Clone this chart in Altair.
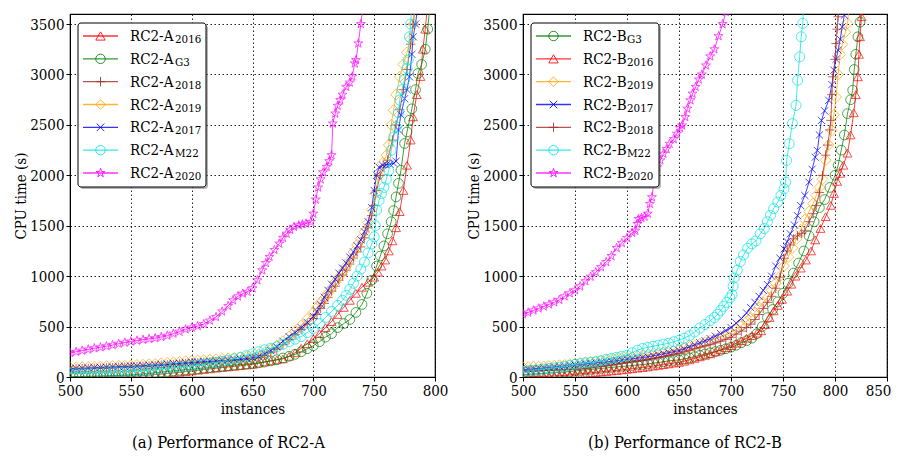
import altair as alt
import pandas as pd

FONT = "'DejaVu Serif Condensed', 'DejaVu Serif', serif"

# ---------------- sampling grids (instances) ----------------
N_500_700 = [500, 505, 510, 515, 520, 525, 530, 535, 540, 545, 550, 555, 560, 565, 570, 575, 580,
             585, 590, 595, 600, 605, 610, 615, 620, 625, 630, 635, 640, 645, 650, 655, 660, 665,
             670, 675, 680, 685, 690, 695, 700]
N_500_650 = [500, 505, 510, 515, 520, 525, 530, 535, 540, 545, 550, 555, 560, 565, 570, 575, 580,
             585, 590, 595, 600, 605, 610, 615, 620, 625, 630, 635, 640, 645, 650]
N_500_605 = [500, 505, 510, 515, 520, 525, 530, 535, 540, 545, 550, 555, 560, 565, 570, 575, 580,
             585, 590, 595, 600, 605]
N_500_600 = [500, 505, 510, 515, 520, 525, 530, 535, 540, 545, 550, 555, 560, 565, 570, 575, 580,
             585, 590, 595, 600]

# ---------------- panel (a) RC2-A ----------------
A2016_n = N_500_700 + [705, 710, 715, 720, 725, 730, 735, 740, 745, 750, 753, 756, 759, 762, 765, 768,
                       771, 774, 777, 780, 782, 785, 788, 790, 792, 794]
A2016_t = [0, 1, 2, 3, 4, 4, 5, 5, 6, 7, 8, 11, 15, 20, 25, 30, 35, 41, 48, 54, 60, 67, 75, 81, 88, 94,
           100, 106, 112, 119, 126, 138, 150, 160, 170, 180, 205, 240, 285, 330, 380,
           430, 490, 550, 620, 690, 760, 830, 890, 940, 990, 1040, 1100, 1160, 1250, 1350, 1480,
           1640, 1850, 2100, 2350, 2580, 2800, 2980, 3250, 3450, 3700]

AG3_n = N_500_700 + [705, 710, 715, 720, 725, 730, 735, 740, 744, 748, 752, 755, 758, 761, 764, 766,
                     768, 770, 772, 775, 777, 779, 781, 784, 786, 789, 792, 794, 796]
AG3_t = [3, 4, 5, 7, 8, 10, 12, 14, 16, 18, 20, 25, 30, 36, 42, 48, 55, 61, 67, 72, 76, 82, 88, 94,
         100, 106, 112, 118, 124, 128, 132, 140, 148, 160, 172, 188, 205, 225, 250, 280, 310,
         350, 395, 430, 490, 530, 570, 640, 720, 830, 960, 1100, 1200, 1300, 1420, 1540, 1650, 1786,
         1920, 2051, 2316, 2430, 2547, 2660, 2850, 3010, 3100, 3250, 3450, 3700]

A2018_n = N_500_700 + [703, 706, 709, 712, 715, 718, 721, 724, 727, 730, 733, 736, 739, 742, 745, 748,
                       750, 752, 755, 758, 761, 765, 768, 771, 774, 777, 780, 782, 784]
A2018_t = [78, 80, 82, 84, 86, 88, 90, 92, 95, 97, 100, 103, 106, 109, 112, 116, 120, 124, 129, 133,
           138, 141, 145, 148, 152, 156, 160, 165, 170, 175, 180, 195, 215, 242, 275, 320, 370, 420,
           470, 525, 580,
           620, 680, 730, 790, 850, 900, 960, 1010, 1060, 1120, 1180, 1240, 1290, 1380, 1480, 1600,
           1700, 1850, 2000, 2080, 2150, 2350, 2500, 2650, 2850, 3050, 3300, 3500, 3700]

A2019_n = N_500_700 + [703, 706, 709, 712, 715, 718, 721, 724, 727, 730, 733, 736, 739, 742, 745, 748,
                       751, 754, 757, 760, 762, 764, 766, 768, 771, 774, 777, 780, 782, 784]
A2019_t = [93, 95, 97, 99, 101, 103, 106, 108, 111, 113, 116, 119, 122, 126, 130, 135, 140, 145, 150,
           155, 160, 164, 168, 172, 176, 180, 185, 190, 196, 200, 205, 222, 245, 275, 310, 355, 400,
           455, 510, 575, 640,
           690, 740, 780, 830, 880, 940, 990, 1040, 1100, 1160, 1240, 1310, 1370, 1440, 1530, 1660,
           1820, 2000, 2120, 2200, 2300, 2500, 2646, 2800, 2977, 3100, 3220, 3350, 3500, 3700]

A2017_n = N_500_700 + [703, 706, 709, 712, 715, 718, 721, 724, 727, 730, 733, 736, 739, 742, 745, 748,
                       750, 752, 754, 757, 760, 763, 766, 768, 770, 772, 775, 777, 779, 781, 782, 784,
                       786]
A2017_t = [83, 85, 87, 89, 92, 94, 97, 99, 102, 104, 106, 109, 112, 116, 120, 124, 128, 133, 137, 142,
           146, 149, 153, 156, 160, 164, 168, 172, 178, 184, 190, 205, 230, 262, 300, 355, 400, 440,
           490, 540, 600,
           650, 720, 790, 860, 920, 970, 1030, 1080, 1130, 1190, 1240, 1300, 1360, 1440, 1540, 1680,
           1850, 2000, 2080, 2100, 2105, 2110, 2120, 2140, 2450, 2600, 2760, 2850, 2977, 3200, 3374,
           3500, 3700]

AM22_n = N_500_700 + [705, 710, 715, 720, 724, 727, 730, 733, 736, 739, 742, 745, 748, 750, 751, 752,
                      754, 756, 758, 760, 762, 764, 766, 768, 770, 771, 773, 775, 777, 778, 779, 780,
                      781]
AM22_t = [35, 36, 38, 40, 42, 44, 46, 48, 50, 53, 56, 59, 62, 67, 73, 79, 85, 91, 97, 103, 110, 118,
          126, 135, 145, 155, 166, 180, 195, 212, 230, 250, 270, 285, 300, 325, 350, 375, 400, 440, 480,
          530, 590, 650, 710, 760, 810, 870, 930, 1000, 1070, 1140, 1230, 1320, 1390, 1500, 1654,
          1750, 1819, 1880, 1960, 2050, 2249, 2380, 2481, 2620, 2746, 2850, 2950, 3060, 3143, 3374,
          3500, 3700]

A2020_n = N_500_600 + [605, 610, 615, 620, 625, 630, 634, 638, 642, 646, 650, 654, 658, 661, 664, 668,
                       672, 675, 678, 681, 684, 688, 691, 694, 698, 700, 702, 704, 706, 708, 711, 713,
                       715, 716, 718, 720, 722, 724, 727, 730, 732, 734, 735, 737, 739, 741]
A2020_t = [240, 250, 262, 273, 285, 295, 305, 317, 330, 341, 352, 361, 370, 378, 385, 397, 410, 430,
           450, 473, 490,
           505, 525, 560, 595, 650, 705, 761, 800, 827, 845, 880, 959, 1058, 1130, 1191, 1260, 1323,
           1380, 1422, 1460, 1490, 1505, 1515, 1522, 1538, 1620, 1760, 1880, 1960, 2030, 2084, 2140,
           2200, 2514, 2613, 2690, 2746, 2800, 2878, 2920, 2980, 3110, 3143, 3308, 3500, 3700]

# ---------------- panel (b) RC2-B ----------------
BG3_n = N_500_700 + [705, 710, 715, 720, 725, 730, 735, 740, 745, 750, 755, 760, 765, 770, 775, 780,
                     785, 790, 795, 800, 803, 806, 809, 812, 815, 817, 818.5, 820, 822, 824, 826]
BG3_t = [25, 27, 30, 32, 35, 38, 42, 46, 50, 55, 60, 65, 70, 75, 80, 85, 90, 95, 100, 105,
         109, 114, 119, 124, 130, 137, 144, 151, 160, 165, 170, 180, 190, 202, 215, 228, 240, 252,
         265, 280, 295,
         315, 340, 360, 385, 430, 500, 589, 670, 745, 830, 930, 1030, 1130, 1250, 1400, 1540, 1680,
         1760, 1880, 2000, 2100, 2250, 2400, 2612, 2750, 2844, 3050, 3200, 3374, 3520, 3700]

B2016_n = N_500_700 + [705, 710, 715, 720, 725, 729, 733, 737, 741, 745, 749, 754, 758, 762, 767, 772,
                       777, 781, 786, 791, 796, 799, 802, 805, 808, 812, 815, 818, 820, 822, 823, 824,
                       825.5, 827]
B2016_t = [0, 1, 3, 4, 5, 8, 10, 13, 15, 20, 27, 31, 35, 40, 45, 50, 55, 60, 65, 70,
           76, 82, 88, 94, 100, 108, 115, 122, 130, 138, 145, 157, 170, 185, 200, 215, 230, 250, 270,
           290, 311,
           335, 360, 385, 410, 435, 458, 520, 590, 655, 710, 770, 851, 920, 1000, 1080, 1160, 1250,
           1360, 1473, 1590, 1702, 1820, 1940, 2020, 2100, 2220, 2400, 2620, 2800, 2977, 3200, 3374,
           3573, 3700]

B2019_n = N_500_700 + [705, 710, 715, 719, 723, 727, 731, 735, 739, 743, 747, 751, 755, 759, 763, 767,
                       771, 775, 779, 782, 785, 788, 791, 794, 797, 799, 801, 803, 805, 807, 810, 812,
                       814]
B2019_t = [95, 97, 99, 101, 104, 108, 112, 116, 120, 126, 132, 138, 144, 150, 156, 162, 168, 174, 180,
           186, 192, 199, 206, 213, 220, 228, 236, 244, 252, 261, 270, 283, 297, 312, 328, 345, 362,
           380, 400, 420, 442,
           475, 510, 550, 589, 640, 690, 740, 786, 860, 930, 1000, 1100, 1190, 1280, 1370, 1460, 1560,
           1640, 1720, 1800, 1880, 1960, 2150, 2300, 2446, 2600, 2777, 3000, 3200, 3300, 3420, 3507,
           3700]

B2017_n = N_500_700 + [705, 710, 715, 719, 723, 727, 731, 735, 739, 743, 747, 751, 754, 757, 761, 764,
                       767, 771, 775, 778, 781, 783, 785, 787, 790, 794, 797, 799, 801, 803, 805, 807,
                       809, 810]
B2017_t = [75, 78, 82, 86, 90, 95, 100, 105, 110, 115, 119, 124, 130, 135, 140, 145, 150, 156, 162, 168,
           175, 181, 187, 193, 200, 210, 220, 230, 240, 251, 262, 280, 300, 320, 340, 360, 380, 405,
           430, 460, 491,
           535, 580, 635, 688, 740, 800, 860, 917, 1000, 1100, 1180, 1270, 1342, 1420, 1506, 1600,
           1700, 1800, 1932, 2060, 2180, 2247, 2400, 2545, 2640, 2744, 2900, 3043, 3150, 3241, 3350,
           3473, 3589, 3700]

B2018_n = N_500_700 + [705, 710, 715, 719, 723, 727, 731, 735, 739, 743, 747, 751, 754, 757, 760, 764,
                       768, 771, 775, 779, 782, 785, 788, 791, 793, 795, 796, 797, 798, 800, 801, 802,
                       803, 804]
B2018_t = [60, 61, 62, 63, 65, 67, 69, 70, 72, 74, 76, 80, 85, 91, 98, 104, 110, 118, 126, 134,
           142, 149, 156, 163, 170, 181, 192, 203, 215, 225, 235, 250, 265, 280, 295, 308, 320, 338,
           355, 374, 393,
           425, 455, 490, 524, 570, 620, 680, 740, 800, 880, 990, 1178, 1250, 1310, 1370, 1400, 1425,
           1450, 1540, 1620, 1700, 1830, 2000, 2200, 2300, 2450, 2545, 2800, 2977, 3150, 3307, 3450,
           3573, 3700]

BM22_n = N_500_650 + [655, 660, 665, 670, 675, 680, 684, 687, 690, 693, 696, 699, 701, 702, 703, 706,
                      709, 712, 716, 720, 724, 728, 732, 735, 738, 741, 745, 748, 751, 752.5, 753.5,
                      756, 759, 762.5, 764, 766, 767.5, 769, 770]
BM22_t = [55, 60, 65, 71, 78, 84, 90, 97, 105, 115, 126, 133, 140, 145, 150, 160, 175, 185, 195, 205,
          215, 240, 265, 283, 295, 305, 315, 325, 335, 350, 365,
          385, 410, 445, 485, 520, 560, 590, 622, 660, 700, 740, 785, 818, 900, 982, 1060, 1146, 1210,
          1277, 1320, 1350, 1420, 1473, 1540, 1604, 1670, 1735, 1800, 1866, 1932, 2148, 2314, 2513,
          2694, 2943, 3175, 3374, 3507, 3700]

B2020_n = N_500_605 + [608, 610, 611, 614, 617, 620, 622, 624, 626, 629, 632, 635, 638, 641, 645, 648,
                       651, 653, 656, 658, 661, 663, 666, 669, 672, 676, 680, 684, 688, 692, 695]
B2020_t = [623, 640, 660, 680, 700, 720, 740, 765, 800, 830, 860, 900, 950, 995, 1040, 1090, 1140,
           1200, 1280, 1330, 1380, 1430,
           1451, 1518, 1568, 1578, 1590, 1620, 1717, 1783, 1949, 2081, 2148, 2214, 2260, 2313, 2360,
           2413, 2470, 2495, 2578, 2661, 2744, 2810, 2877, 2950, 3000, 3090, 3180, 3250, 3380, 3500,
           3620]

# ---------------- styles (per solver tag) ----------------
PLUS = "M-1,0L1,0M0,-1L0,1"
XMARK = "M-0.8,-0.8L0.8,0.8M-0.8,0.8L0.8,-0.8"
STAR = ("M0,-1L0.22,-0.31L0.95,-0.31L0.36,0.12L0.59,0.81L0,0.38L-0.59,0.81"
        "L-0.36,0.12L-0.95,-0.31L-0.22,-0.31Z")
STYLE = {
    "2016": ("#ff0000", "triangle-up", 80),
    "G3": ("#008000", "circle", 95),
    "2018": ("#a52a2a", PLUS, 90),
    "2019": ("#ffa500", "diamond", 120),
    "2017": ("#0000ff", XMARK, 80),
    "M22": ("#00e5e5", "circle", 100),
    "2020": ("#ff00ff", STAR, 90),
}

SERIES_A = [("2016", A2016_n, A2016_t), ("G3", AG3_n, AG3_t), ("2018", A2018_n, A2018_t),
            ("2019", A2019_n, A2019_t), ("2017", A2017_n, A2017_t), ("M22", AM22_n, AM22_t),
            ("2020", A2020_n, A2020_t)]
SERIES_B = [("G3", BG3_n, BG3_t), ("2016", B2016_n, B2016_t), ("2019", B2019_n, B2019_t),
            ("2017", B2017_n, B2017_t), ("2018", B2018_n, B2018_t), ("M22", BM22_n, BM22_t),
            ("2020", B2020_n, B2020_t)]

Y_TICKS = [0, 500, 1000, 1500, 2000, 2500, 3000, 3500]
X_TICKS_A = [500, 550, 600, 650, 700, 750, 800]
X_TICKS_B = [500, 550, 600, 650, 700, 750, 800, 850]


def panel(series, base, caption, xmax, xticks, width, sub_dx, cap_dx):
    xs = alt.Scale(domain=[500, xmax], nice=False, zero=False)
    ys = alt.Scale(domain=[0, 3600], nice=False)
    xax = alt.Axis(values=xticks, title="instances", format="d",
                   labelOffset={"condition": {"test": "datum.value == 850", "value": -9},
                                "value": 0})
    yax = alt.Axis(values=Y_TICKS, title="CPU time (s)", format="d")
    layers = []
    for tag, n, t in series:
        color, shape, size = STYLE[tag]
        df = pd.DataFrame({"n": n, "t": t})
        b = alt.Chart(df).encode(x=alt.X("n:Q", scale=xs, axis=xax),
                                 y=alt.Y("t:Q", scale=ys, axis=yax))
        layers.append(b.mark_line(color=color, strokeWidth=1, opacity=0.75, clip=True))
        layers.append(b.mark_point(shape=shape, size=size, color=color, filled=False,
                                   strokeWidth=1, opacity=0.7, clip=True))
    data_layer = alt.layer(*layers)

    tags = [s[0] for s in series]
    leg = pd.DataFrame({"tag": tags, "row": list(range(len(tags))),
                        "main": [base] * len(tags), "sub": tags})
    ly = alt.Y("row:Q", scale=alt.Scale(domain=[0, 6], range=[22, 159]), axis=None)
    lc = alt.Color("tag:N", scale=alt.Scale(domain=tags, range=[STYLE[g][0] for g in tags]),
                   legend=None)
    ls = alt.Shape("tag:N", scale=alt.Scale(domain=tags, range=[STYLE[g][1] for g in tags]),
                   legend=None)
    one = pd.DataFrame({"k": [0]})
    shadow = alt.Chart(one).mark_rect(color="#777777", opacity=0.55, cornerRadius=3).encode(
        x=alt.value(10), x2=alt.value(138), y=alt.value(11), y2=alt.value(175))
    box = alt.Chart(one).mark_rect(fill="white", stroke="black", strokeWidth=1,
                                   cornerRadius=3).encode(
        x=alt.value(8), x2=alt.value(136), y=alt.value(9), y2=alt.value(173))
    lrule = alt.Chart(leg).mark_rule(strokeWidth=1.3, opacity=0.8).encode(
        x=alt.value(13), x2=alt.value(48), y=ly, color=lc)
    lpt = alt.Chart(leg).mark_point(filled=False, size=90, strokeWidth=1, opacity=0.85).encode(
        x=alt.value(30.5), y=ly, color=lc, shape=ls)
    ltxt = alt.Chart(leg).mark_text(align="left", baseline="middle", font=FONT, fontSize=15,
                                    color="black").encode(x=alt.value(60), y=ly, text="main:N")
    lsub = alt.Chart(leg).mark_text(align="left", baseline="middle", font=FONT, fontSize=11.5,
                                    color="black", dx=sub_dx, dy=4).encode(
        x=alt.value(60), y=ly, text="sub:N")
    legend_layer = alt.layer(shadow, box, lrule, lpt, ltxt, lsub)

    return alt.layer(data_layer, legend_layer).resolve_scale(y="independent").properties(
        width=width, height=363,
        title=alt.TitleParams(caption, orient="bottom", anchor="middle", frame="group",
                              dx=cap_dx, offset=19, fontSize=16.5, font=FONT,
                              fontWeight="normal", color="black"))


pa = panel(SERIES_A, "RC2-A", "(a) Performance of RC2-A", 800, X_TICKS_A, 365, 45, -24)
pb = panel(SERIES_B, "RC2-B", "(b) Performance of RC2-B", 850, X_TICKS_B, 364, 44, -20)

chart = alt.hconcat(pa, pb, spacing=16).properties(
    padding={"left": 4, "top": 5, "right": 0, "bottom": 0}
).configure_view(stroke="black", strokeWidth=1.2).configure_axis(
    labelFont=FONT, titleFont=FONT, labelFontSize=15, titleFontSize=15, titleFontWeight="normal",
    labelColor="black", titleColor="black", domainColor="black", tickColor="black",
    tickSize=4, labelPadding=2, titlePadding=4, grid=True, gridColor="black",
    gridDash=[1.5, 2.5], gridOpacity=0.85, gridWidth=1, labelFlush=False
).configure_axisY(minExtent=38, maxExtent=38, titlePadding=4
).configure_axisX(minExtent=22, maxExtent=22, titlePadding=2)

chart.save("out.html", embed_options={"renderer": "svg", "actions": False})
